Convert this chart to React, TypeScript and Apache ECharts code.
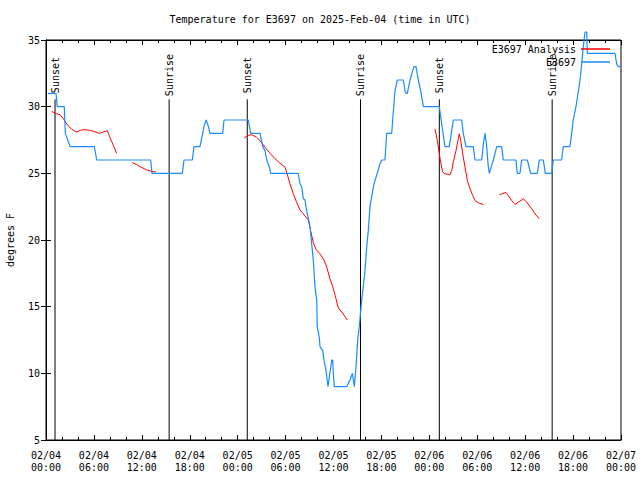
import React, { useEffect, useRef } from "react";
import * as echarts from "echarts";

const TITLE = "Temperature for E3697 on 2025-Feb-04 (time in UTC)";
const Y_NAME = "degrees F";
const SERIES_ANALYSIS = "E3697 Analysis";
const SERIES_OBS = "E3697";

// hours since 2025-02-04 00:00 UTC
const obsHours = [
  0.25, 1.25, 1.41, 2.29, 2.42, 3.01, 6.05, 6.35, 13.11, 13.27, 17.07, 17.28, 18.32, 18.53,
  19.28, 19.62, 19.78, 20.04, 20.29, 20.54, 22.13, 22.29, 25.33, 25.63, 26.8, 27.14, 27.42,
  27.64, 27.96, 28.14, 31.59, 31.81, 32.02, 32.22, 32.43, 32.64, 32.85, 33.06, 33.27, 33.47,
  33.68, 33.9, 33.97, 34.22, 34.31, 34.65, 34.81, 35.06, 35.31, 35.47, 35.78, 35.9, 35.98,
  36.1, 37.65, 38.07, 38.36, 38.61, 38.82, 39.03, 39.23, 39.41, 39.53, 39.73, 39.94, 40.16,
  40.36, 40.57, 40.91, 41.07, 41.32, 41.82, 42.04, 42.45, 42.66, 43.29, 43.41, 43.61, 43.7,
  43.99, 44.74, 44.95, 45.08, 45.24, 45.58, 45.92, 46.08, 46.33, 46.62, 46.92, 47.25, 49.25,
  49.55, 49.96, 50.5, 50.8, 51.0, 52.05, 52.25, 52.59, 53.5, 53.72, 54.56, 54.76, 54.97,
  55.18, 55.38, 55.51, 55.81, 56.01, 56.44, 57.06, 57.26, 58.85, 59.01, 59.35, 59.56, 60.27,
  60.69, 61.52, 61.77, 62.27, 62.52, 63.32, 63.52, 64.57, 64.77, 65.61, 65.82, 66.02, 66.36,
  66.65, 66.87, 67.08, 67.28, 67.49, 67.71, 67.78, 71.25, 71.46, 71.66, 72.0,
];
const obsTemps = [
  31, 31, 30, 30, 28, 27, 27, 26, 26, 25, 25, 26, 26, 27,
  27, 28, 28.5, 29, 28.6, 28, 28, 29, 29, 28, 28, 27, 26.7,
  26, 25.5, 25, 25, 24.2, 24, 23.1, 23, 22.2, 21.6, 21, 19.7, 18.5,
  16.5, 15.5, 13.5, 12.7, 12, 11.7, 11, 10.2, 9, 9.7, 11, 11, 10,
  9, 9, 9.5, 10, 9, 10.5, 12.5, 13.5, 14.7, 15.5, 16.5, 17.7, 19.5,
  20.7, 22.5, 23.7, 24.2, 24.7, 25.7, 26, 26, 28, 28, 29, 30.5, 31.2,
  32, 32, 31.2, 31, 31, 32, 32.7, 33, 33, 32, 31.2, 30, 30,
  28.7, 27, 27, 28.2, 29, 29, 28, 27, 27, 26, 26, 27.2, 28,
  27, 25.5, 25, 25.6, 26, 27, 27, 26, 26, 25, 25, 26, 26,
  25, 25, 26, 26, 25, 25, 26, 26, 27, 27, 28, 29, 30,
  31.1, 32, 33.2, 34.5, 35.6, 35.6, 34, 34, 33.2, 33, 33,
];

// null marks a gap in the analysis series
const anaHours = [
  0.71, 1.34, 1.75, 2.17, 2.59, 3.22, 3.84, 4.47, 5.1, 5.92, 6.67, 7.18, 7.68, 8.0, 8.43, 8.85,
  9.8,
  10.8, 11.36, 11.77, 12.6, 13.24, 13.77,
  19.0,
  24.83, 25.33, 25.76, 26.38, 26.8, 27.42, 28.05, 28.67, 29.3, 29.93, 30.2, 30.55, 30.97,
  31.4, 31.8, 32.43, 32.85, 33.06, 33.47, 33.81, 34.31, 34.81, 35.15, 35.56, 35.98, 36.31,
  36.6, 37.03, 37.44, 37.73,
  43.0,
  48.71, 49.0, 49.25, 49.42, 49.67, 49.96, 50.59, 50.8, 51.0, 51.34, 51.63, 51.75, 51.93,
  52.18, 52.47, 52.76, 53.1, 53.43, 53.72, 54.13, 54.76,
  55.8,
  56.76, 57.06, 57.6, 57.89, 58.31, 58.73, 59.14, 59.77, 60.19, 60.82, 61.23, 61.77,
];
const anaTemps: (number | null)[] = [
  29.64, 29.46, 29.4, 29.1, 28.7, 28.3, 28.1, 28.26, 28.26, 28.16, 28.0, 28.1, 28.2, 27.7, 27.1, 26.5,
  null,
  25.8, 25.66, 25.5, 25.26, 25.14, 25.1,
  null,
  27.66, 27.84, 27.9, 27.7, 27.46, 26.96, 26.5, 26.1, 25.76, 25.46, 24.96, 24.2, 23.46,
  22.8, 22.26, 21.8, 21.5, 20.9, 19.8, 19.3, 18.96, 18.5, 17.96, 17.1, 16.34, 15.6,
  14.9, 14.6, 14.26, 14.0,
  null,
  28.34, 27.46, 26.46, 25.84, 25.1, 24.96, 24.9, 25.2, 25.84, 26.7, 27.6, 27.96, 27.46,
  26.46, 25.46, 24.46, 23.84, 23.34, 22.96, 22.79, 22.66,
  null,
  23.41, 23.46, 23.56, 23.34, 22.96, 22.66, 22.84, 23.09, 22.84, 22.34, 21.96, 21.59,
];

const sunHours = [1.13, 15.42, 25.2, 39.38, 49.25, 63.38];
const sunLabels = ["Sunset", "Sunrise", "Sunset", "Sunrise", "Sunset", "Sunrise"];

const xTickLabel = (h: number) => {
  const day = 4 + Math.floor(h / 24);
  const hh = h % 24;
  return `02/${String(day).padStart(2, "0")}\n${String(hh).padStart(2, "0")}:00`;
};

const FONT = "DejaVu Sans Mono";

export default function App() {
  const ref = useRef<HTMLDivElement>(null);
  useEffect(() => {
    if (!ref.current) return;
    const chart = echarts.init(ref.current, null, { renderer: "svg" });
    const obsData = obsHours.map((h, i) => [h, obsTemps[i]]);
    const anaData = anaHours.map((h, i) => [h, anaTemps[i] === null ? "-" : anaTemps[i]]);
    const sunData = sunHours.map((h) => [h, 5]);

    const tickStyle = { color: "#000", width: 1 };
    chart.setOption({
      animation: false,
      backgroundColor: "#fff",
      title: {
        text: TITLE,
        left: "center",
        top: 14,
        padding: 0,
        textStyle: { fontFamily: FONT, fontSize: 10, fontWeight: "normal", color: "#000" },
      },
      legend: {
        data: [SERIES_ANALYSIS, SERIES_OBS],
        orient: "vertical",
        align: "right",
        right: 30,
        top: 43,
        padding: 0,
        itemGap: 1,
        itemWidth: 29,
        itemHeight: 1.5,
        icon: "rect",
        textStyle: { fontFamily: FONT, fontSize: 10, color: "#000", lineHeight: 12 },
      },
      grid: {
        left: 46,
        right: 19,
        top: 40,
        bottom: 40,
        containLabel: false,
        outerBoundsMode: "none",
        show: true,
        borderColor: "#000",
        borderWidth: 1,
        backgroundColor: "transparent",
      },
      xAxis: [
        {
          type: "value",
          min: 0,
          max: 72,
          interval: 6,
          position: "bottom",
          axisLine: { show: true, lineStyle: tickStyle },
          axisTick: { show: true, inside: true, length: 5, lineStyle: tickStyle },
          minorTick: { show: true, splitNumber: 3, length: 3, lineStyle: tickStyle },
          splitLine: { show: false },
          axisLabel: {
            formatter: xTickLabel,
            fontFamily: FONT,
            fontSize: 10,
            color: "#000",
            lineHeight: 12,
            margin: 9,
          },
        },
        {
          type: "value",
          min: 0,
          max: 72,
          interval: 6,
          position: "top",
          axisLine: { show: true, lineStyle: tickStyle },
          axisTick: { show: true, inside: true, length: 5, lineStyle: tickStyle },
          minorTick: { show: true, splitNumber: 3, length: 3, lineStyle: tickStyle },
          splitLine: { show: false },
          axisLabel: { show: false },
        },
      ],
      yAxis: [
        {
          type: "value",
          min: 5,
          max: 35,
          interval: 5,
          position: "left",
          name: Y_NAME,
          nameLocation: "middle",
          nameRotate: 90,
          nameGap: 31,
          nameTextStyle: { fontFamily: FONT, fontSize: 10, color: "#000" },
          axisLine: { show: true, lineStyle: tickStyle },
          axisTick: { show: true, inside: true, length: 5, lineStyle: tickStyle },
          splitLine: { show: false },
          axisLabel: { fontFamily: FONT, fontSize: 10, color: "#000", margin: 6 },
        },
        {
          type: "value",
          min: 5,
          max: 35,
          interval: 5,
          position: "right",
          axisLine: { show: true, lineStyle: tickStyle },
          axisTick: { show: true, inside: true, length: 5, lineStyle: tickStyle },
          splitLine: { show: false },
          axisLabel: { show: false },
        },
      ],
      series: [
        {
          type: "custom",
          name: "sun",
          xAxisIndex: 0,
          yAxisIndex: 0,
          data: sunData,
          silent: true,
          clip: false,
          z: 1,
          renderItem: (params: any, api: any) => {
            const x = api.value(0);
            const top = api.coord([x, 30.55]);
            const bot = api.coord([x, 5]);
            const lab = api.coord([x, 32.37]);
            return {
              type: "group",
              children: [
                {
                  type: "line",
                  shape: { x1: top[0], y1: top[1], x2: bot[0], y2: bot[1] },
                  style: { stroke: "#000", lineWidth: 1 },
                },
                {
                  type: "text",
                  x: lab[0],
                  y: lab[1],
                  rotation: Math.PI / 2,
                  style: {
                    text: sunLabels[params.dataIndex],
                    align: "center",
                    verticalAlign: "middle",
                    font: `10px "${FONT}"`,
                    fill: "#000",
                  },
                },
              ],
            };
          },
        },
        {
          type: "line",
          name: SERIES_ANALYSIS,
          data: anaData,
          showSymbol: false,
          connectNulls: false,
          lineStyle: { color: "#ff0000", width: 1 },
          itemStyle: { color: "#ff0000" },
          z: 2,
        },
        {
          type: "line",
          name: SERIES_OBS,
          data: obsData,
          showSymbol: false,
          clip: false,
          lineStyle: { color: "#1a8cff", width: 1.2 },
          itemStyle: { color: "#1a8cff" },
          z: 3,
        },
      ],
    });
    return () => chart.dispose();
  }, []);
  return <div ref={ref} style={{ width: 640, height: 480, position: "absolute", left: 0, top: 0 }} />;
}
